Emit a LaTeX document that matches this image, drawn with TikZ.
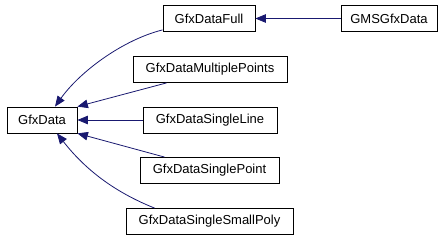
\documentclass[tikz,border=0pt]{standalone}
\usepackage{fontspec}
\setmainfont{Liberation Sans}
\usetikzlibrary{arrows.meta}
\definecolor{edgeblue}{HTML}{191970}
\begin{document}
\begin{tikzpicture}[x=1pt,y=-1pt,
  cls/.style={draw=black,line width=0.8pt,fill=white,inner sep=0pt,
    minimum height=26pt,font=\fontsize{13}{15}\selectfont},
  inherit/.style={draw=edgeblue,line width=0.8pt,
    -{Triangle[length=10.5pt,width=8.5pt]}}]
  \useasboundingbox (0,0) rectangle (448,240);
  \node[cls,minimum width=70pt]  (gd) at (42,120)    {GfxData};
  \node[cls,minimum width=92pt]  (fu) at (209,18.5)  {GfxDataFull};
  \node[cls,minimum width=96pt]  (gm) at (389,18.5)  {GMSGfxData};
  \node[cls,minimum width=154pt] (mp) at (210,69.5)  {GfxDataMultiplePoints};
  \node[cls,minimum width=134pt] (sl) at (210,120)   {GfxDataSingleLine};
  \node[cls,minimum width=139pt] (pt) at (209.5,170.5) {GfxDataSinglePoint};
  \node[cls,minimum width=167pt] (sp) at (209.5,221.5) {GfxDataSingleSmallPoly};

  \draw[inherit] (gm.west) -- (fu.east);
  \draw[inherit] ([yshift=2pt]fu.south west) .. controls +(-40,10) and +(25,-35) .. ([xshift=13pt]gd.north);
  \draw[inherit] ([xshift=34pt]mp.south west) -- (gd.north east);
  \draw[inherit] (sl.west) -- (gd.east);
  \draw[inherit] ([xshift=25pt]pt.north west) -- (gd.south east);
  \draw[inherit] ([xshift=29pt]sp.north west) .. controls +(-45,-18) and +(25,32) .. ([xshift=15pt]gd.south);
\end{tikzpicture}
\end{document}
